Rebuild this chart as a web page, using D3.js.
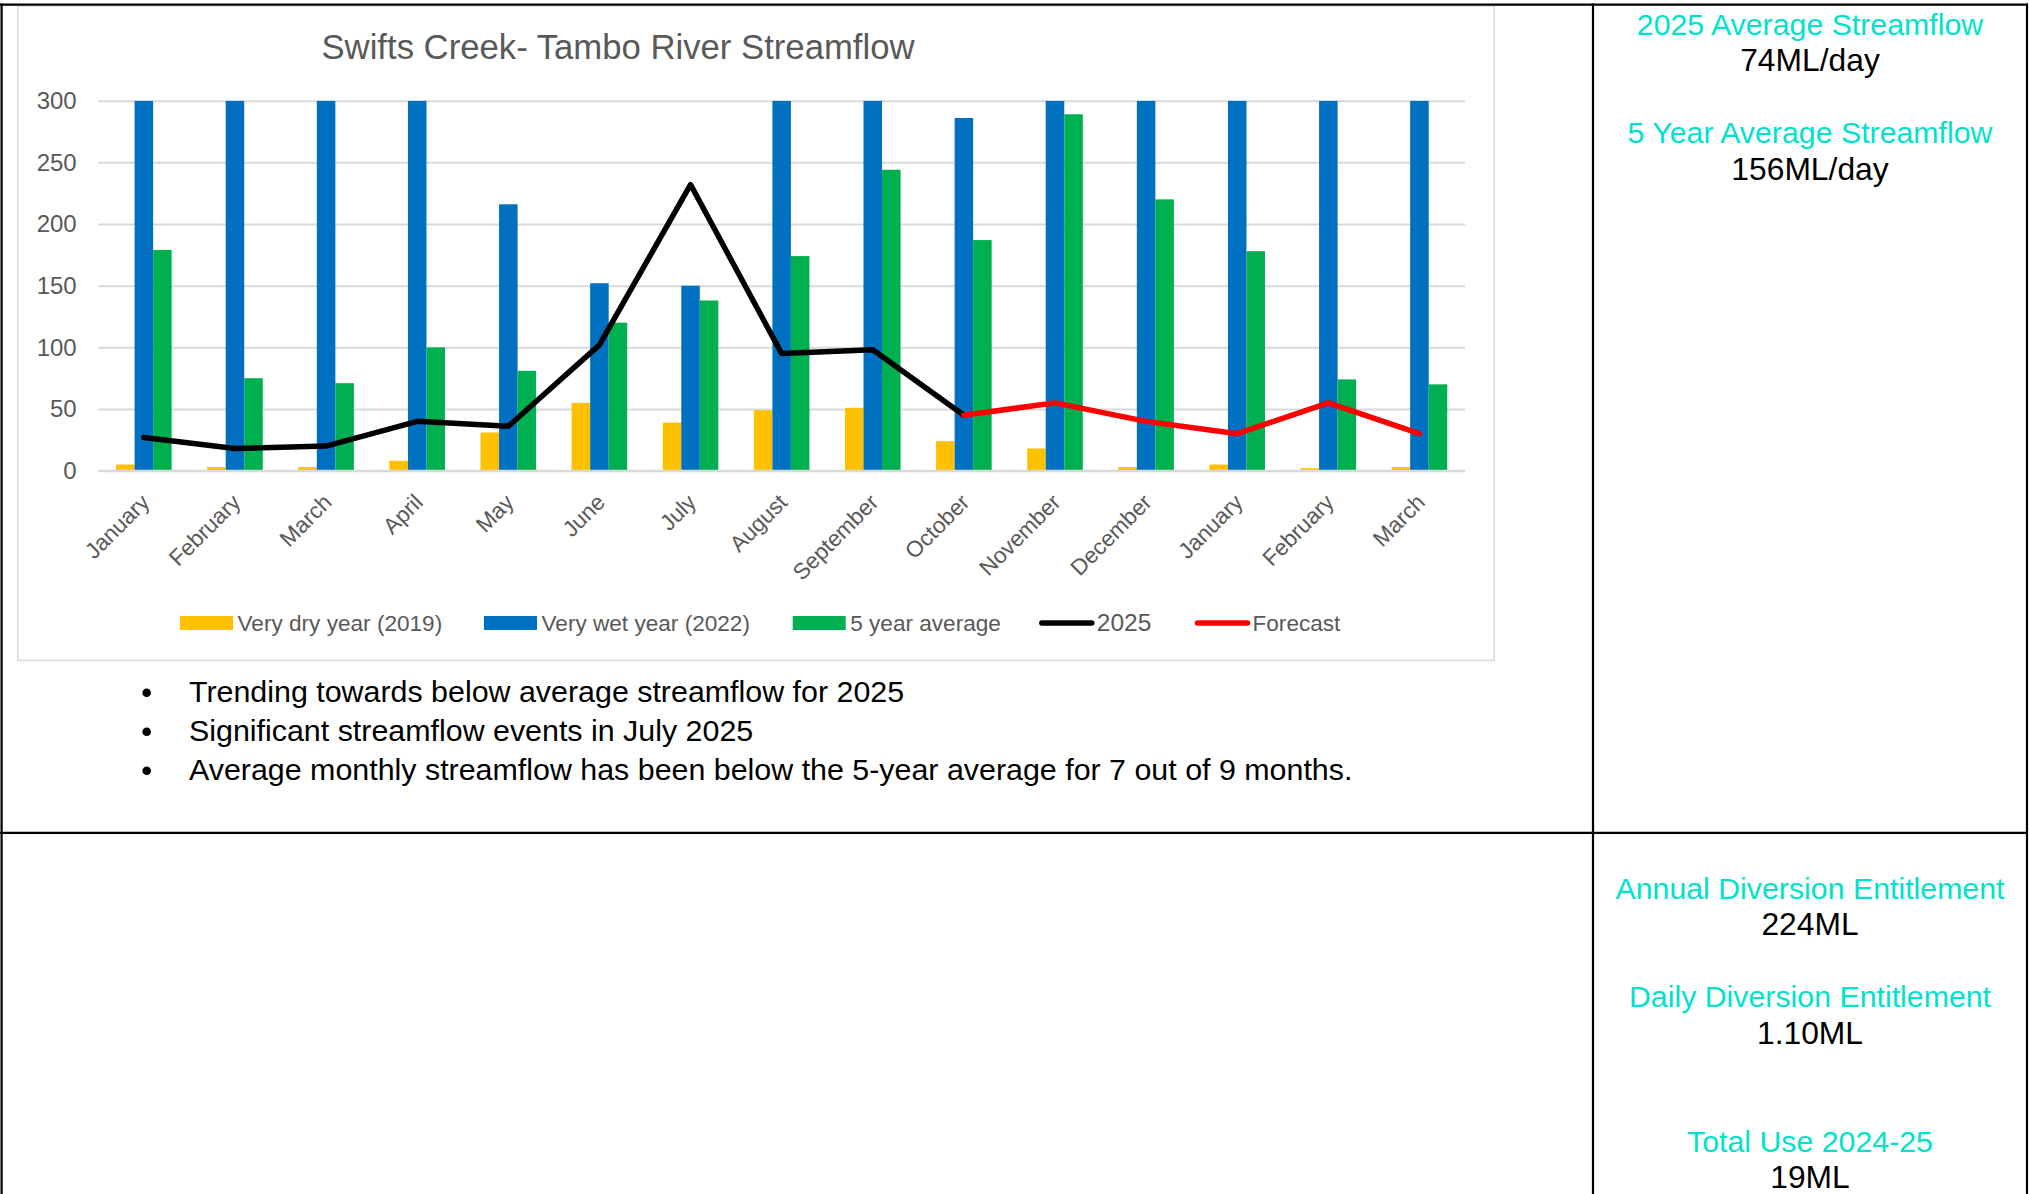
<!DOCTYPE html>
<html>
<head>
<meta charset="utf-8">
<script src="https://cdn.jsdelivr.net/npm/d3@7"></script>
<style>
  html, body { margin: 0; padding: 0; background: #ffffff; }
  svg { display: block; }
  text { font-family: "Liberation Sans", Arial, sans-serif; }
</style>
</head>
<body>
<svg id="page" width="2029" height="1194"></svg>
<script>
// ---- Data -------------------------------------------------------------
const months = ["January", "February", "March", "April", "May", "June", "July",
  "August", "September", "October", "November", "December", "January", "February", "March"];
const dry2019 = [5, 3, 3, 8, 31, 55, 39, 49, 51, 24, 18, 3, 5, 2, 3];
const wet2022 = [300, 300, 300, 300, 216, 152, 150, 300, 300, 286, 300, 300, 300, 300, 300];
const avg5yr = [179, 75, 71, 100, 81, 120, 138, 174, 244, 187, 289, 220, 178, 74, 70];
const flow2025 = [27, 18, 20, 40, 36, 102, 232, 95, 98, 45];
const forecast = [null, null, null, null, null, null, null, null, null, 45, 55, 40, 30, 55, 30];
const yTicks = [0, 50, 100, 150, 200, 250, 300];

const barSeries = [
  { name: "Very dry year (2019)", values: dry2019, color: "#FFC000" },
  { name: "Very wet year (2022)", values: wet2022, color: "#0070C0" },
  { name: "5 year average", values: avg5yr, color: "#00B050" }
];
const lineSeries = [
  { name: "2025", values: flow2025, color: "#000000" },
  { name: "Forecast", values: forecast, color: "#FF0000" }
];

const chartTitle = "Swifts Creek- Tambo River Streamflow";
const notes = [
  "Trending towards below average streamflow for 2025",
  "Significant streamflow events in July 2025",
  "Average monthly streamflow has been below the 5-year average for 7 out of 9 months."
];
const topPanel = [
  ["2025 Average Streamflow", "74ML/day"],
  ["5 Year Average Streamflow", "156ML/day"]
];
const bottomPanel = [
  ["Annual Diversion Entitlement", "224ML"],
  ["Daily Diversion Entitlement", "1.10ML"],
  ["Total Use 2024-25", "19ML"]
];

// ---- Layout -----------------------------------------------------------
const svg = d3.select("#page");
const W = 2029, H = 1194;
svg.append("rect").attr("width", W).attr("height", H).attr("fill", "#fff");

const plot = { left: 98.3, right: 1465, top: 100.7, bottom: 470.7 };
const TEXT_GRAY = "#595959";
const GRID = "#D9D9D9";
const CYAN = "#00E2CC";

// chart frame
svg.append("rect")
  .attr("x", 17.7).attr("y", 5.8)
  .attr("width", 1494.3 - 17.7).attr("height", 660.3 - 5.8)
  .attr("fill", "#fff").attr("stroke", GRID).attr("stroke-width", 1.5);

// scales
const x = d3.scaleBand()
  .domain(d3.range(months.length))
  .range([plot.left, plot.right])
  .paddingInner(0.39)
  .paddingOuter(0.195);
const xSub = d3.scaleBand()
  .domain(d3.range(barSeries.length))
  .range([0, x.bandwidth()]);
const y = d3.scaleLinear().domain([0, 300]).range([plot.bottom, plot.top]);

// gridlines + y labels
const yAxis = svg.append("g")
  .attr("transform", `translate(${plot.left},0)`)
  .call(d3.axisLeft(y).tickValues(yTicks).tickSize(-(plot.right - plot.left)).tickPadding(21.6));
yAxis.select(".domain").remove();
yAxis.selectAll(".tick line").attr("stroke", GRID).attr("stroke-width", 2);
yAxis.selectAll(".tick text")
  .attr("fill", TEXT_GRAY)
  .style("font-size", "24px")
  .style("font-family", "'Liberation Sans', Arial, sans-serif");

// x axis labels, rotated
const xAxis = svg.append("g")
  .attr("transform", `translate(0,${plot.bottom})`)
  .call(d3.axisBottom(x).tickFormat(i => months[i]).tickSize(0));
xAxis.select(".domain").remove();
xAxis.selectAll(".tick text")
  .attr("fill", TEXT_GRAY)
  .attr("x", 0).attr("y", 0).attr("dy", null)
  .attr("text-anchor", "end")
  .attr("transform", "translate(7,33) rotate(-45)")
  .style("font-size", "22.5px")
  .style("font-family", "'Liberation Sans', Arial, sans-serif");

// bars (clipped to plot area)
svg.append("clipPath").attr("id", "plotClip")
  .append("rect")
  .attr("x", plot.left).attr("y", plot.top)
  .attr("width", plot.right - plot.left).attr("height", plot.bottom - plot.top);

const barLayer = svg.append("g").attr("clip-path", "url(#plotClip)");
barSeries.forEach((s, si) => {
  barLayer.append("g")
    .selectAll("rect")
    .data(s.values)
    .join("rect")
    .attr("x", (d, i) => x(i) + xSub(si))
    .attr("width", xSub.bandwidth())
    .attr("y", d => y(d))
    .attr("height", d => y(0) - y(d))
    .attr("fill", s.color);
});

// zero line
svg.append("line")
  .attr("x1", plot.left).attr("x2", plot.right)
  .attr("y1", y(0)).attr("y2", y(0))
  .attr("stroke", GRID).attr("stroke-width", 2);

// lines
const line = d3.line()
  .defined(d => d != null)
  .x((d, i) => x(i) + x.bandwidth() / 2)
  .y(d => y(d));
lineSeries.forEach(s => {
  svg.append("path")
    .datum(s.values)
    .attr("d", line)
    .attr("fill", "none")
    .attr("stroke", s.color)
    .attr("stroke-width", 5.5)
    .attr("stroke-linejoin", "round")
    .attr("stroke-linecap", "round");
});

// title
svg.append("text")
  .attr("x", 618).attr("y", 59)
  .attr("text-anchor", "middle")
  .attr("fill", TEXT_GRAY)
  .style("font-size", "34.7px")
  .text(chartTitle);

// legend
const legendItems = [
  { name: barSeries[0].name, color: barSeries[0].color, kind: "bar", x: 180 },
  { name: barSeries[1].name, color: barSeries[1].color, kind: "bar", x: 484 },
  { name: barSeries[2].name, color: barSeries[2].color, kind: "bar", x: 792.7 },
  { name: lineSeries[0].name, color: lineSeries[0].color, kind: "line", x: 1039.3 },
  { name: lineSeries[1].name, color: lineSeries[1].color, kind: "line", x: 1195 }
];
const legend = svg.append("g");
legendItems.forEach(it => {
  if (it.kind === "bar") {
    legend.append("rect").attr("x", it.x).attr("y", 616).attr("width", 53).attr("height", 14).attr("fill", it.color);
  } else {
    legend.append("line").attr("x1", it.x + 2.5).attr("x2", it.x + 52.5).attr("y1", 623).attr("y2", 623)
      .attr("stroke", it.color).attr("stroke-width", 5.5).attr("stroke-linecap", "round");
  }
  legend.append("text")
    .attr("x", it.x + 57.5).attr("y", 631)
    .attr("fill", TEXT_GRAY)
    .style("font-size", it.kind === "line" && it.name === "2025" ? "24.5px" : "22.6px")
    .text(it.name);
});

// notes under the chart
const noteG = svg.append("g");
notes.forEach((t, i) => {
  const by = 701.7 + i * 39;
  noteG.append("circle").attr("cx", 146.7).attr("cy", by - 9).attr("r", 4.3).attr("fill", "#000");
  noteG.append("text").attr("x", 189).attr("y", by).attr("fill", "#000")
    .style("font-size", "30.4px").text(t);
});

// side panel figures
function panel(items, baselines) {
  items.forEach((pair, i) => {
    svg.append("text").attr("x", 1810).attr("y", baselines[i][0])
      .attr("text-anchor", "middle").attr("fill", CYAN)
      .style("font-size", "30.3px").text(pair[0]);
    svg.append("text").attr("x", 1810).attr("y", baselines[i][1])
      .attr("text-anchor", "middle").attr("fill", "#000")
      .style("font-size", "31.8px").text(pair[1]);
  });
}
panel(topPanel, [[35, 70.7], [143.3, 180]]);
panel(bottomPanel, [[899, 935], [1007.3, 1044], [1151.7, 1188.3]]);

// table rules
const rules = svg.append("g").attr("stroke", "#000").attr("stroke-width", 2.2);
rules.append("line").attr("x1", 0).attr("x2", 2028).attr("y1", 4.7).attr("y2", 4.7);
rules.append("line").attr("x1", 1.6).attr("x2", 1.6).attr("y1", 3.6).attr("y2", H);
rules.append("line").attr("x1", 1593).attr("x2", 1593).attr("y1", 3.6).attr("y2", H);
rules.append("line").attr("x1", 2027).attr("x2", 2027).attr("y1", 3.6).attr("y2", H);
rules.append("line").attr("x1", 0).attr("x2", 2028).attr("y1", 832.8).attr("y2", 832.8);
</script>
</body>
</html>
